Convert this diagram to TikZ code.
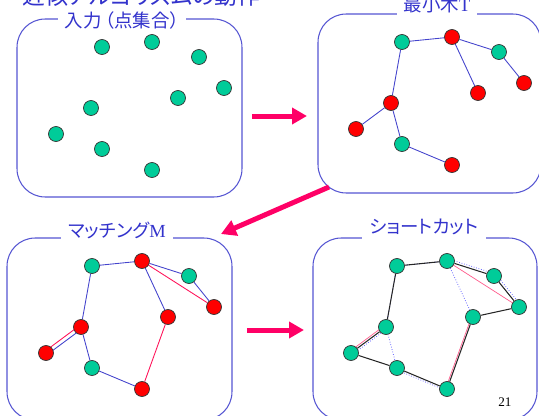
\documentclass[tikz,border=0pt]{standalone}
\usepackage{fontspec}
\setmainfont{Liberation Serif}
\newfontfamily\jpfont[RawFeature=+palt]{Noto Sans CJK JP}
\usetikzlibrary{arrows.meta, backgrounds}
\definecolor{ptgreen}{RGB}{0, 204, 153}
\definecolor{ptred}{RGB}{255, 0, 0}
\definecolor{frameblue}{RGB}{85, 85, 210}
\definecolor{labelblue}{RGB}{51, 51, 204}
\definecolor{treeblue}{RGB}{68, 68, 204}
\definecolor{matchred}{RGB}{255, 20, 90}
\definecolor{arrowpink}{RGB}{255, 0, 102}
% points: name/x/y/colour (colour as in the tree and matching panels)
\newcommand{\pointset}{a/102/47/ptgreen, b/152/42/ptred, c/199/57/ptgreen, d/224/88/ptred, e/178/98/ptred, f/91/108/ptred, g/56/134/ptred, h/102/149/ptgreen, i/152/170/ptred}

\begin{document}
\begin{tikzpicture}[
    x=0.02cm, y=-0.02cm,
    panel/.style={
        rectangle, draw=frameblue, line width=0.6pt, rounded corners=16pt
    },
    panellabel/.style={
        fill=white, inner xsep=4pt, inner ysep=3pt, text=labelblue,
        font=\jpfont\fontsize{10.5}{12}\selectfont
    },
    point/.style={
        circle, draw=black!80, line width=0.4pt, minimum size=0.3cm, inner sep=0pt
    },
    treeedge/.style={draw=treeblue, line width=0.5pt},
    matchedge/.style={draw=matchred, line width=0.5pt},
    touredge/.style={draw=black!85, line width=0.6pt},
    oldtree/.style={draw=blue!60, line width=0.45pt, densely dotted},
    oldmatch/.style={draw=matchred!70, line width=0.4pt},
    flowarrow/.style={
        -{Triangle[length=0.3cm, width=0.32cm]}, line width=0.1cm, color=arrowpink
    }
]
\useasboundingbox (0,0) rectangle (539,416);

% Title
\node[anchor=east, inner sep=0pt, text=labelblue, font=\jpfont\fontsize{13}{15}\selectfont] (title) at (261,-4) {近似アルゴリズムの動作};

% Panels
\node[panel, minimum width=4.5cm, minimum height=3.56cm] (boxinput) at (129.5,108) {};
\node[panel, minimum width=4.46cm, minimum height=3.58cm] (boxtree) at (429.5,103.5) {};
\node[panel, minimum width=4.5cm, minimum height=3.64cm] (boxmatch) at (119.5,329) {};
\node[panel, minimum width=4.48cm, minimum height=3.64cm] (boxshort) at (425,329) {};

\node[panellabel] (lblinput) at (122,20) {入力\hspace{2pt}（点集合）};
\node[panellabel] (lbltree) at (437,5) {最小木\rmfamily T};
\node[panellabel] (lblmatch) at (117,230) {マッチング\rmfamily M};
\node[panellabel] (lblshort) at (424,227) {ショートカット};

% Points
\foreach \n/\px/\py/\c in \pointset
    \node[point, fill=ptgreen] (in\n) at (\px,\py) {};
\begin{scope}[shift={(300,-5)}]
\foreach \n/\px/\py/\c in \pointset
    \node[point, fill=\c] (mst\n) at (\px,\py) {};
\end{scope}
\begin{scope}[shift={(-10,219)}]
\foreach \n/\px/\py/\c in \pointset
    \node[point, fill=\c] (mat\n) at (\px,\py) {};
\end{scope}
\begin{scope}[shift={(295,219)}]
\foreach \n/\px/\py/\c in \pointset
    \node[point, fill=ptgreen] (sc\n) at (\px,\py) {};
\end{scope}

% Edges
\begin{scope}[on background layer]
% minimum spanning tree
\foreach \u/\v in {a/b, b/c, c/d, b/e, a/f, f/g, f/h, h/i}
    \draw[treeedge] (mst\u) -- (mst\v);
% tree plus matching
\foreach \u/\v in {a/b, b/c, c/d, b/e, a/f, f/h, h/i}
    \draw[treeedge] (mat\u) -- (mat\v);
\draw[treeedge] ([shift={(1.2,1.6)}]matf.center) -- ([shift={(1.2,1.6)}]matg.center);
\draw[matchedge] ([shift={(-1.2,-1.6)}]matf.center) -- ([shift={(-1.2,-1.6)}]matg.center);
\draw[matchedge] (matb.center) -- (matd);
\draw[matchedge] (mate) -- (mati);
% shortcut tour over the old edges
\foreach \u/\v/\dx/\dy in {a/b/0/0, b/c/0/-2.5, c/d/2/-1.5, b/e/0/0, a/f/0/0, f/g/1.2/1.6, f/h/0/0, h/i/0/2}
    \draw[oldtree] ([shift={(\dx,\dy)}]sc\u.center) -- ([shift={(\dx,\dy)}]sc\v.center);
\foreach \u/\v/\dx/\dy in {b/d/0/0, e/i/-1.5/0, f/g/-1.2/-1.6}
    \draw[oldmatch] ([shift={(\dx,\dy)}]sc\u.center) -- ([shift={(\dx,\dy)}]sc\v.center);
\foreach \u/\v in {a/b, b/c, c/d, d/e, e/i, i/h, h/g, g/f, f/a}
    \draw[touredge] (sc\u) -- (sc\v);
\end{scope}

% Arrows
\coordinate (arrowAs) at (252,116);
\coordinate (arrowAe) at (307,116);
\coordinate (arrowBs) at (329,187);
\coordinate (arrowBe) at (221,234);
\coordinate (arrowCs) at (247,330);
\coordinate (arrowCe) at (304,330);
\draw[flowarrow] (arrowAs) -- (arrowAe);
\draw[flowarrow] (arrowBs) -- (arrowBe);
\draw[flowarrow] (arrowCs) -- (arrowCe);

% Page number
\node[font=\fontsize{7.5}{9}\selectfont] (pagenum) at (505,402) {21};

\end{tikzpicture}
\end{document}
